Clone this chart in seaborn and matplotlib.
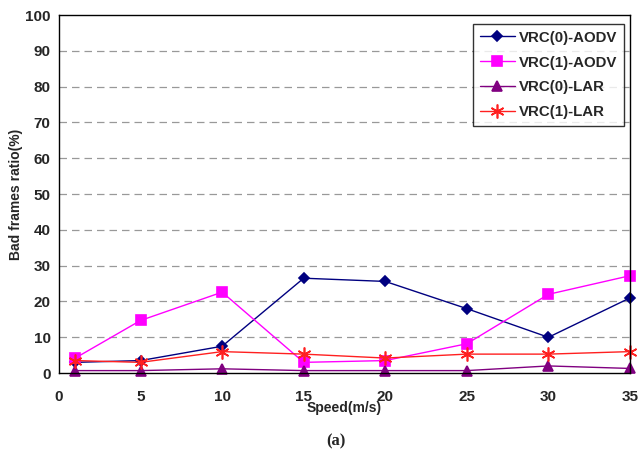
import matplotlib
matplotlib.use("Agg")
import matplotlib.pyplot as plt
import pandas as pd
import seaborn as sns

speed = [1, 5, 10, 15, 20, 25, 30, 35]
vrc0_aodv = [3.0, 3.5, 7.5, 26.5, 25.6, 18.0, 10.0, 21.0]
vrc1_aodv = [4.2, 14.7, 22.6, 3.0, 3.5, 8.2, 22.0, 27.2]
vrc0_lar = [0.7, 0.7, 1.2, 0.7, 0.7, 0.7, 2.0, 1.3]
vrc1_lar = [3.5, 3.0, 6.0, 5.3, 4.2, 5.3, 5.3, 6.0]

series = {
    "VRC(0)-AODV": vrc0_aodv,
    "VRC(1)-AODV": vrc1_aodv,
    "VRC(0)-LAR": vrc0_lar,
    "VRC(1)-LAR": vrc1_lar,
}
styles = {
    "VRC(0)-AODV": dict(color="#000080", marker="D", markersize=5.5),
    "VRC(1)-AODV": dict(color="#FF00FF", marker="s", markersize=6.5),
    "VRC(0)-LAR": dict(color="#800080", marker="^", markersize=7),
    "VRC(1)-LAR": dict(color="#FF2020", marker=(6, 2, 0), markersize=10),
}

sns.set_style("white")
plt.rcParams["font.family"] = ["Liberation Sans", "DejaVu Sans"]

fig = plt.figure(figsize=(6.39, 4.55), dpi=100)
ax = fig.add_axes([0.0923, 0.180, 0.8936, 0.787])

for name, vals in series.items():
    df = pd.DataFrame({"speed": speed, "value": vals})
    st = styles[name]
    sns.lineplot(data=df, x="speed", y="value", ax=ax, color=st["color"],
                 marker=st["marker"], markersize=st["markersize"],
                 markeredgecolor=st["color"], markeredgewidth=1.2,
                 linewidth=1.0, label=name, clip_on=False)

ax.set_xlim(0, 35)
ax.set_ylim(0, 100)
ax.set_xticks(range(0, 36, 5))
ax.set_yticks(range(0, 101, 10))
for y in range(10, 100, 10):
    ax.axhline(y, color="#999999", linestyle=(0, (6, 4)), linewidth=0.9, zorder=0)

for s in ax.spines.values():
    s.set_color("black")
    s.set_linewidth(1.0)

ax.tick_params(axis="both", direction="out", length=4, width=1, color="black",
               labelsize=11, pad=2)
for lab in ax.get_xticklabels() + ax.get_yticklabels():
    lab.set_fontweight("bold")
ax.tick_params(axis="x", pad=8)

ax.set_xlabel("Speed(m/s)", fontsize=10, fontweight="bold", labelpad=-2)
ax.set_ylabel("Bad frames ratio(%)", fontsize=10, fontweight="bold")
ax.yaxis.set_label_coords(-0.063, 0.5)

leg = ax.legend(loc="upper right", bbox_to_anchor=(0.99, 0.975), frameon=True,
                fancybox=False, edgecolor="black", prop=dict(size=10.8, weight="bold"),
                handlelength=2.3, borderpad=0.45, labelspacing=0.72, handletextpad=0.3,
                borderaxespad=0)
leg.get_frame().set_linewidth(1.0)

fig.text(0.525, 0.029, "(a)", ha="center", va="center", fontsize=12,
         fontweight="bold", family="Liberation Serif")

fig.savefig("out.png", dpi=100)
